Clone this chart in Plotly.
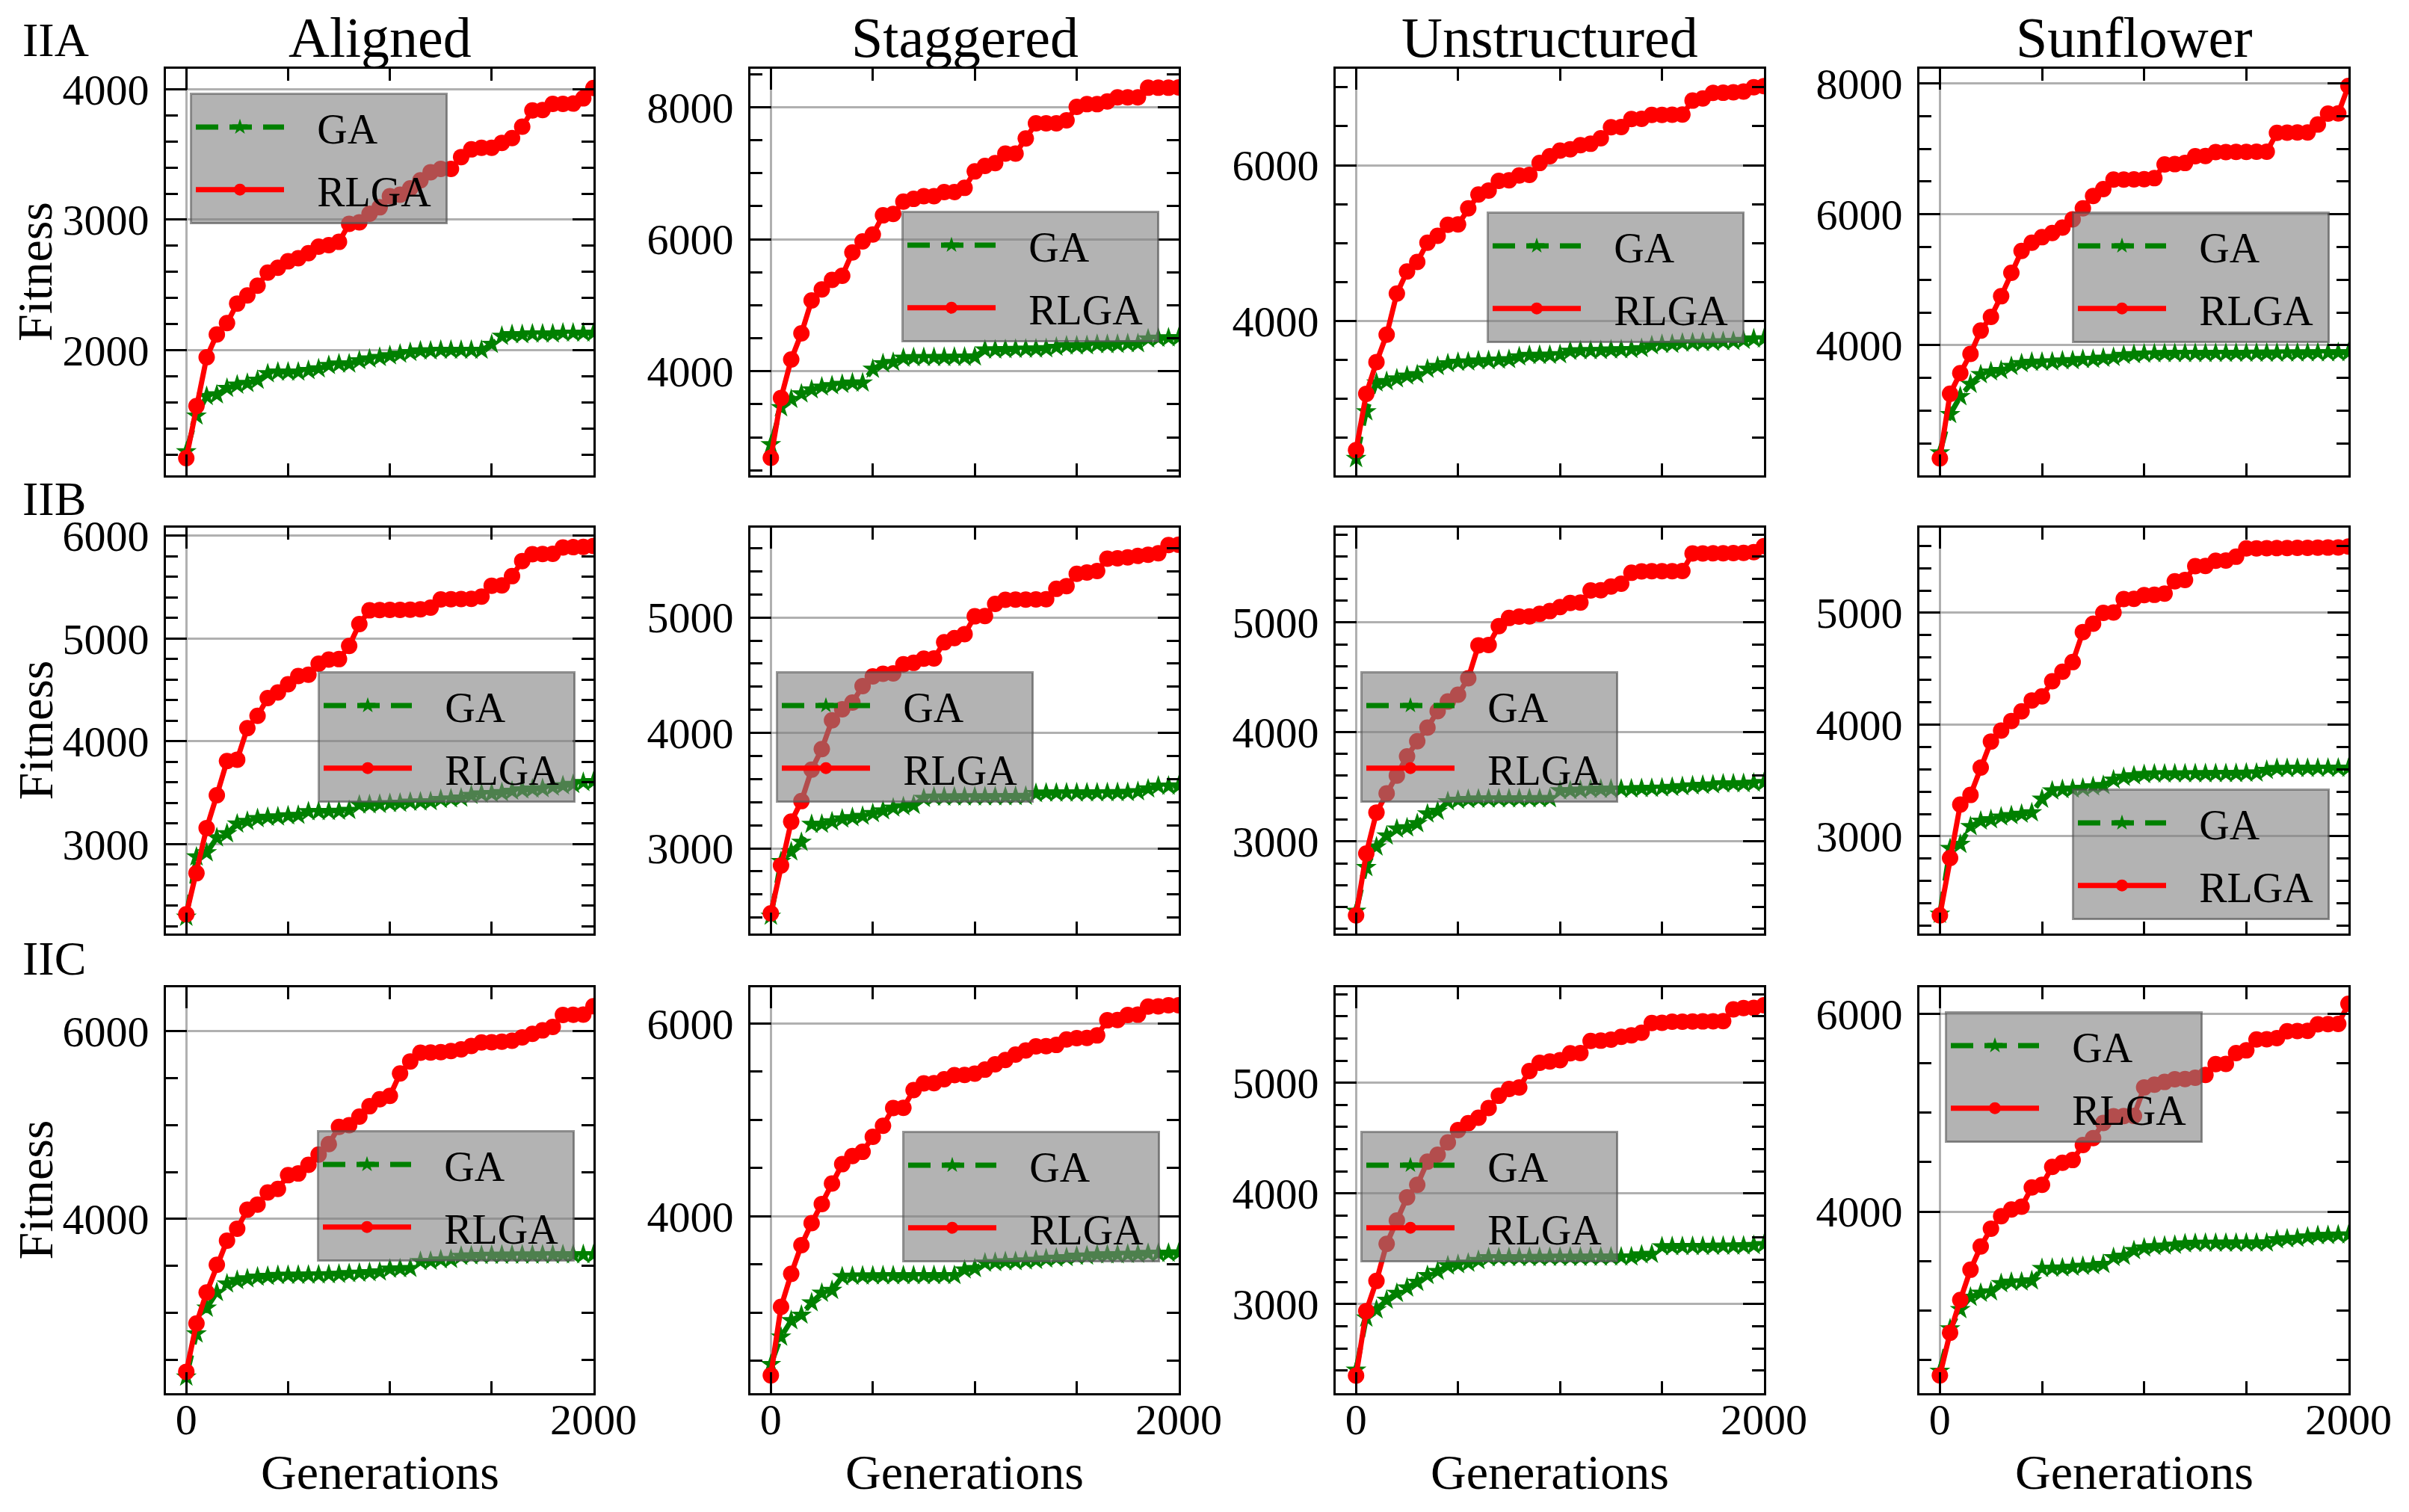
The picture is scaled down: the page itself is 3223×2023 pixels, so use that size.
import plotly.graph_objects as go

# the page has an 8px body margin, so the figure is sized to fit the 3223x2023 window
FW, FH = 3215, 2007
OX, OY = 8, 8           # where the figure sits inside the window
FONT = "Liberation Serif"

# generations at which the best fitness was sampled
GENS = list(range(0, 2001, 50))

COLUMNS = ["Aligned", "Staggered", "Unstructured", "Sunflower"]
ROWS = ["IIA", "IIB", "IIC"]

# ---- IIA ----
ga_iia_aligned = [1222, 1496, 1646, 1658, 1708, 1733, 1746, 1770, 1820, 1833,
                  1833, 1833, 1845, 1858, 1883, 1895, 1895, 1920, 1933, 1945,
                  1958, 1970, 1983, 1995, 1995, 2000, 2000, 2000, 2000, 2000,
                  2045, 2107, 2120, 2120, 2125, 2125, 2125, 2132, 2132, 2132, 2132]
rlga_iia_aligned = [1172, 1571, 1945, 2120, 2207, 2357, 2419, 2494, 2594, 2631,
                    2681, 2705, 2743, 2793, 2805, 2830, 2968, 2980, 3045, 3095,
                    3180, 3192, 3240, 3302, 3364, 3389, 3389, 3480, 3539, 3551,
                    3551, 3589, 3626, 3713, 3838, 3840, 3888, 3888, 3890, 3930, 4010]

ga_iia_staggered = [2890, 3451, 3576, 3659, 3721, 3763, 3784, 3805, 3825, 3825,
                    4033, 4116, 4137, 4200, 4208, 4210, 4210, 4212, 4215, 4215,
                    4220, 4324, 4324, 4330, 4335, 4338, 4340, 4345, 4366, 4387,
                    4387, 4390, 4407, 4407, 4410, 4420, 4420, 4491, 4503, 4508, 4511]
rlga_iia_staggered = [2690, 3597, 4179, 4574, 5073, 5239, 5385, 5447, 5800, 5967,
                      6071, 6362, 6383, 6570, 6611, 6653, 6653, 6715, 6715, 6778,
                      7027, 7110, 7152, 7297, 7297, 7526, 7755, 7755, 7755, 7800,
                      8004, 8046, 8046, 8087, 8150, 8150, 8150, 8295, 8295, 8295, 8300]

ga_iia_unstructured = [2236, 2836, 3206, 3224, 3259, 3295, 3312, 3383, 3418, 3453,
                       3471, 3475, 3489, 3492, 3499, 3506, 3541, 3559, 3560, 3562,
                       3570, 3612, 3619, 3620, 3622, 3630, 3632, 3635, 3647, 3683,
                       3700, 3702, 3718, 3720, 3725, 3728, 3735, 3738, 3753, 3771, 3771]
rlga_iia_unstructured = [2342, 3065, 3471, 3824, 4353, 4635, 4758, 5005, 5093, 5235,
                         5240, 5446, 5623, 5675, 5799, 5805, 5869, 5875, 6028, 6116,
                         6187, 6205, 6257, 6275, 6346, 6487, 6490, 6593, 6595, 6645,
                         6645, 6648, 6650, 6829, 6857, 6928, 6930, 6935, 6945, 7000, 7016]

ga_iia_sunflower = [2355, 2942, 3215, 3404, 3551, 3593, 3614, 3677, 3719, 3740,
                    3742, 3745, 3761, 3765, 3782, 3785, 3803, 3815, 3845, 3857,
                    3866, 3870, 3874, 3874, 3874, 3875, 3875, 3876, 3876, 3878,
                    3878, 3880, 3880, 3880, 3882, 3882, 3884, 3885, 3885, 3887, 3887]
rlga_iia_sunflower = [2271, 3257, 3572, 3866, 4222, 4432, 4747, 5104, 5439, 5565,
                      5649, 5712, 5796, 5922, 6090, 6279, 6384, 6530, 6530, 6532,
                      6535, 6551, 6761, 6765, 6782, 6887, 6890, 6950, 6950, 6952,
                      6952, 6955, 6955, 7244, 7246, 7248, 7250, 7370, 7538, 7540, 7960]

# ---- IIB ----
ga_iib_aligned = [2288, 2875, 2915, 3061, 3101, 3195, 3221, 3248, 3261, 3265,
                  3275, 3280, 3315, 3317, 3318, 3320, 3328, 3381, 3383, 3387,
                  3395, 3398, 3408, 3410, 3413, 3435, 3440, 3448, 3475, 3488,
                  3492, 3501, 3515, 3528, 3536, 3540, 3555, 3568, 3581, 3600, 3608]
rlga_iib_aligned = [2315, 2715, 3155, 3475, 3808, 3821, 4128, 4248, 4421, 4475,
                    4555, 4635, 4648, 4755, 4795, 4800, 4928, 5141, 5275, 5278,
                    5280, 5280, 5282, 5285, 5301, 5381, 5383, 5385, 5387, 5408,
                    5515, 5518, 5608, 5755, 5821, 5823, 5825, 5888, 5890, 5893, 5901]

ga_iib_staggered = [2413, 2887, 2970, 3053, 3208, 3210, 3231, 3255, 3267, 3279,
                    3302, 3326, 3350, 3362, 3374, 3433, 3445, 3445, 3446, 3446,
                    3447, 3447, 3448, 3448, 3450, 3452, 3476, 3480, 3480, 3481,
                    3481, 3482, 3482, 3483, 3484, 3485, 3492, 3516, 3540, 3540, 3542]
rlga_iib_staggered = [2437, 2852, 3231, 3409, 3682, 3860, 4109, 4204, 4263, 4406,
                      4489, 4512, 4515, 4595, 4607, 4643, 4645, 4785, 4821, 4856,
                      5010, 5012, 5117, 5153, 5155, 5155, 5157, 5158, 5248, 5272,
                      5378, 5390, 5402, 5509, 5512, 5521, 5533, 5544, 5556, 5627, 5630]

ga_iib_unstructured = [2363, 2763, 2951, 3051, 3114, 3126, 3164, 3252, 3277, 3364,
                       3377, 3384, 3389, 3389, 3390, 3390, 3391, 3391, 3392, 3392,
                       3464, 3465, 3469, 3477, 3478, 3478, 3479, 3480, 3484, 3486,
                       3489, 3495, 3502, 3509, 3514, 3518, 3527, 3528, 3529, 3534, 3539]
rlga_iib_unstructured = [2325, 2889, 3264, 3439, 3602, 3777, 3915, 4040, 4190, 4278,
                         4340, 4491, 4791, 4795, 4966, 5041, 5054, 5056, 5079, 5104,
                         5141, 5179, 5181, 5292, 5294, 5329, 5354, 5454, 5467, 5468,
                         5468, 5469, 5470, 5630, 5631, 5632, 5633, 5634, 5635, 5642, 5697]

ga_iib_sunflower = [2304, 2892, 2929, 3088, 3137, 3150, 3174, 3186, 3199, 3211,
                    3333, 3407, 3419, 3424, 3431, 3444, 3456, 3505, 3529, 3542,
                    3554, 3559, 3559, 3560, 3560, 3561, 3561, 3562, 3562, 3563,
                    3566, 3567, 3591, 3608, 3608, 3609, 3609, 3610, 3610, 3611, 3611]
rlga_iib_sunflower = [2292, 2806, 3284, 3370, 3615, 3848, 3946, 4032, 4118, 4216,
                      4252, 4387, 4473, 4559, 4828, 4902, 5000, 5003, 5123, 5125,
                      5159, 5161, 5172, 5282, 5294, 5417, 5419, 5466, 5468, 5502,
                      5576, 5577, 5578, 5579, 5580, 5581, 5582, 5583, 5584, 5585, 5593]

# ---- IIC ----
ga_iic_aligned = [2316, 2776, 3051, 3217, 3309, 3346, 3364, 3382, 3390, 3400,
                  3401, 3402, 3403, 3405, 3408, 3412, 3419, 3424, 3430, 3437,
                  3467, 3470, 3474, 3548, 3550, 3566, 3570, 3603, 3608, 3612,
                  3614, 3615, 3616, 3617, 3617, 3618, 3619, 3620, 3620, 3621, 3621]
rlga_iic_aligned = [2371, 2886, 3217, 3511, 3768, 3897, 4099, 4154, 4283, 4320,
                    4467, 4485, 4577, 4687, 4798, 4982, 5000, 5092, 5202, 5276,
                    5312, 5551, 5680, 5772, 5775, 5778, 5790, 5809, 5845, 5882,
                    5885, 5890, 5900, 5937, 5974, 6011, 6048, 6176, 6178, 6180, 6268]

ga_iic_staggered = [2464, 2748, 2919, 2976, 3104, 3203, 3232, 3374, 3380, 3382,
                    3383, 3384, 3384, 3385, 3385, 3386, 3386, 3387, 3387, 3445,
                    3459, 3516, 3522, 3530, 3531, 3539, 3545, 3559, 3567, 3573,
                    3587, 3590, 3602, 3602, 3603, 3607, 3608, 3616, 3617, 3618, 3622]
rlga_iic_staggered = [2350, 3061, 3403, 3701, 3929, 4128, 4341, 4541, 4626, 4669,
                      4825, 4939, 5124, 5126, 5309, 5380, 5382, 5422, 5465, 5467,
                      5480, 5522, 5578, 5622, 5678, 5721, 5764, 5766, 5778, 5835,
                      5849, 5851, 5877, 6034, 6036, 6090, 6092, 6176, 6178, 6190, 6190]

ga_iic_unstructured = [2404, 2875, 2949, 3036, 3098, 3147, 3197, 3259, 3296, 3346,
                       3358, 3371, 3395, 3420, 3420, 3421, 3421, 3422, 3422, 3423,
                       3423, 3424, 3424, 3425, 3425, 3426, 3426, 3427, 3445, 3450,
                       3519, 3520, 3521, 3522, 3522, 3523, 3524, 3525, 3526, 3530, 3539]
rlga_iic_unstructured = [2354, 2937, 3209, 3544, 3755, 3965, 4077, 4287, 4349, 4461,
                         4572, 4634, 4684, 4771, 4882, 4944, 4957, 5105, 5180, 5192,
                         5204, 5266, 5268, 5378, 5380, 5390, 5415, 5428, 5452, 5539,
                         5541, 5551, 5552, 5553, 5554, 5555, 5556, 5663, 5675, 5677, 5700]

ga_iic_sunflower = [2388, 2817, 3011, 3136, 3177, 3191, 3274, 3288, 3290, 3302,
                    3427, 3429, 3432, 3440, 3449, 3454, 3468, 3537, 3551, 3607,
                    3634, 3648, 3654, 3662, 3676, 3681, 3682, 3682, 3683, 3683,
                    3684, 3684, 3685, 3717, 3726, 3731, 3745, 3759, 3760, 3765, 3765]
rlga_iic_sunflower = [2346, 2776, 3108, 3413, 3648, 3828, 3953, 4022, 4050, 4244,
                      4271, 4452, 4493, 4521, 4673, 4742, 4895, 4964, 4966, 4968,
                      5255, 5283, 5310, 5338, 5340, 5352, 5380, 5490, 5492, 5601,
                      5629, 5740, 5742, 5753, 5823, 5825, 5827, 5892, 5894, 5896, 6100]

GA = [[ga_iia_aligned, ga_iia_staggered, ga_iia_unstructured, ga_iia_sunflower],
      [ga_iib_aligned, ga_iib_staggered, ga_iib_unstructured, ga_iib_sunflower],
      [ga_iic_aligned, ga_iic_staggered, ga_iic_unstructured, ga_iic_sunflower]]
RLGA = [[rlga_iia_aligned, rlga_iia_staggered, rlga_iia_unstructured, rlga_iia_sunflower],
        [rlga_iib_aligned, rlga_iib_staggered, rlga_iib_unstructured, rlga_iib_sunflower],
        [rlga_iic_aligned, rlga_iic_staggered, rlga_iic_unstructured, rlga_iic_sunflower]]

# y axis limits and tick steps (major, minor) per panel
Y_RANGES = [[(1040, 4157), (2424, 8582), (2018, 7238), (2011, 8222)],
            [(2128, 6080), (2262, 5778), (2159, 5866), (2130, 5762)],
            [(2143, 6470), (2165, 6376), (2195, 5862), (2166, 6266)]]
Y_STEPS = [[(1000, 200), (2000, 500), (2000, 500), (2000, 500)],
           [(1000, 200), (1000, 200), (1000, 200), (1000, 200)],
           [(2000, 500), (2000, 500), (1000, 200), (2000, 500)]]

# panel boxes, in window pixels
COL_PX = [(222, 794), (1004, 1577), (1787, 2360), (2568, 3142)]
ROW_PX = [(92, 636), (706, 1249), (1321, 1864)]
# top-left corner of each legend box, in window pixels
LEGEND_PX = [[(254, 124), (1206, 282), (1989, 283), (2772, 283)],
             [(425, 898), (1038, 898), (1820, 898), (2772, 1055)],
             [(424, 1512), (1207, 1513), (1820, 1513), (2602, 1353)]]


def fx(p):
    return (p - OX) / FW


def fy(p):
    return 1 - (p - OY) / FH


fig = go.Figure()
annotations = []
layout = {}
gap = "\u00a0\u00a0\u2009"

for r in range(3):
    for c in range(4):
        k = r * 4 + c + 1
        sfx = "" if k == 1 else str(k)
        leg = "legend" + sfx

        fig.add_trace(go.Scatter(
            x=GENS, y=GA[r][c], name=gap + "GA\u00a0", mode="lines+markers",
            line=dict(color="#008000", width=7, dash="30px,15px"),
            marker=dict(symbol="star", size=21, color="#008000"),
            xaxis="x" + sfx, yaxis="y" + sfx, legend=leg, legendgroup="ga"))
        fig.add_trace(go.Scatter(
            x=GENS, y=RLGA[r][c], name=gap + "RLGA\u00a0", mode="lines+markers",
            line=dict(color="#ff0000", width=7),
            marker=dict(symbol="circle", size=22, color="#ff0000"),
            xaxis="x" + sfx, yaxis="y" + sfx, legend=leg, legendgroup="rlga"))

        x0, x1 = COL_PX[c]
        y0, y1 = ROW_PX[r]
        major, minor = Y_STEPS[r][c]
        axis_common = dict(
            automargin=False,
            showline=True, linecolor="black", linewidth=3, mirror="ticks",
            ticks="inside", tickcolor="black", tickwidth=2.5,
            zeroline=False, gridcolor="#b0b0b0", gridwidth=2.5,
            tickfont=dict(family=FONT, size=58, color="black"),
        )
        layout["xaxis" + sfx] = dict(
            axis_common, domain=[fx(x0), fx(x1)], anchor="y" + sfx,
            range=[-100, 2000], tickmode="array", tickvals=[0, 2000],
            ticktext=["0", "2000"], ticklen=28, showticklabels=(r == 2),
            ticklabelstandoff=-18, showgrid=True,
            minor=dict(tickmode="linear", tick0=0, dtick=500, ticks="inside",
                       ticklen=16, tickwidth=2.5, tickcolor="black", showgrid=False),
        )
        layout["yaxis" + sfx] = dict(
            axis_common, domain=[fy(y1), fy(y0)], anchor="x" + sfx,
            range=list(Y_RANGES[r][c]), tickmode="linear", tick0=0, dtick=major,
            tickformat="d", ticklen=28, ticklabelstandoff=8, showgrid=True,
            minor=dict(tickmode="linear", tick0=0, dtick=minor, ticks="inside",
                       ticklen=16, tickwidth=2.5, tickcolor="black", showgrid=False),
        )

        lx, ly = LEGEND_PX[r][c]
        layout[leg] = dict(
            x=fx(lx), y=fy(ly), xanchor="left", yanchor="top",
            xref="paper", yref="paper",
            bgcolor="rgba(128,128,128,0.6)", bordercolor="rgba(80,80,80,0.6)",
            borderwidth=3, itemwidth=118, tracegroupgap=8,
            font=dict(family=FONT, size=56, color="black"),
        )

# column titles and x titles
for c, name in enumerate(COLUMNS):
    annotations.append(dict(
        text=name, x=fx(sum(COL_PX[c]) / 2), y=fy(93), xref="paper", yref="paper",
        xanchor="center", yanchor="bottom", showarrow=False, borderpad=0,
        font=dict(family=FONT, size=76, color="black")))
    annotations.append(dict(
        text="Generations", x=fx(sum(COL_PX[c]) / 2), y=fy(1969), xref="paper",
        yref="paper", xanchor="center", yanchor="middle", showarrow=False,
        font=dict(family=FONT, size=66, color="black")))

# row labels and y titles
for r, name in enumerate(ROWS):
    annotations.append(dict(
        text=name, x=fx(28), y=fy(ROW_PX[r][0] - 1), xref="paper", yref="paper",
        xanchor="left", yanchor="bottom", showarrow=False,
        font=dict(family=FONT, size=64, color="black")))
    annotations.append(dict(
        text="Fitness", x=fx(47), y=fy(sum(ROW_PX[r]) / 2), xref="paper",
        yref="paper", xanchor="center", yanchor="middle", textangle=-90,
        showarrow=False, font=dict(family=FONT, size=66, color="black")))

fig.update_layout(
    width=FW, height=FH,
    margin=dict(l=0, r=0, t=0, b=0, autoexpand=False),
    paper_bgcolor="white", plot_bgcolor="white",
    font=dict(family=FONT, color="black"),
    showlegend=True,
    annotations=annotations,
    **layout,
)

fig.write_html("out.html")
